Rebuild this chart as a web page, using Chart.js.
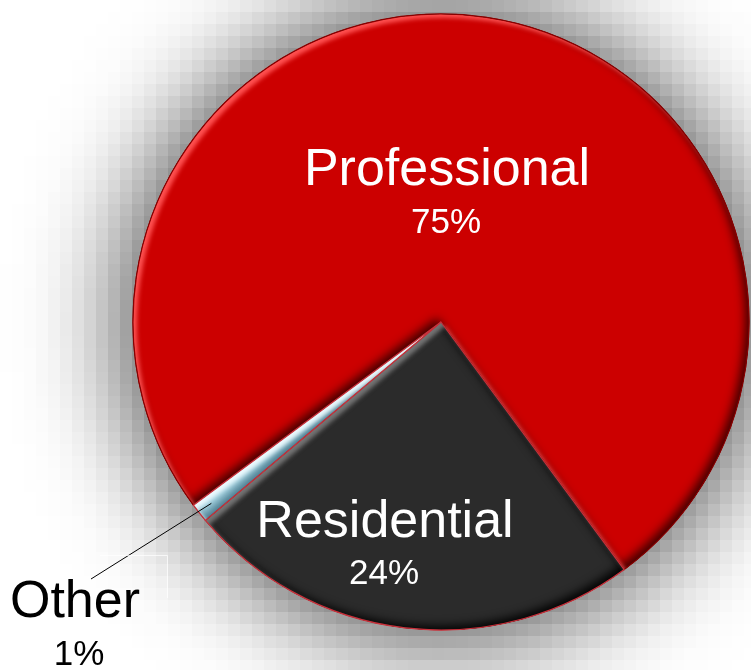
<!DOCTYPE html>
<html>
<head>
<meta charset="utf-8">
<script src="https://cdn.jsdelivr.net/npm/chart.js@4.4.1/dist/chart.umd.min.js"></script>
<style>
  html, body { margin: 0; padding: 0; background: #fff; }
  #pie { display: block; }
</style>
</head>
<body>
<canvas id="pie" width="751" height="670"></canvas>
<script>
// ===== data =====
const SEGMENTS = ["Professional", "Residential", "Other"];
const SHARES = [75, 24, 1];
const SHARE_TEXT = ["75%", "24%", "1%"];

// ===== look =====
const FILLS   = ["#cc0000", "#2b2b2b", "#a9d7e5"];
const BORDERS = ["#8a0000", "#c8313b", "#c8313b"];
const BEVEL = [
  { light: "rgba(255,80,80,1)",      dark: "rgba(60,0,0,0.95)" },
  { light: "rgba(120,120,120,0.95)", dark: "rgba(0,0,0,0.95)" },
  { light: "rgba(240,252,255,0.95)", dark: "rgba(60,110,130,0.9)" },
];
const FONT = "'Liberation Sans', Arial, sans-serif";
const NAME_SIZE = 52;
const PCT_SIZE = 35;

// label spots, relative to the pie centre
const LABEL_SPOTS = [
  { name: [6, -137],    pct: [5, -89],    color: "#fff" },
  { name: [-56, 215],   pct: [-57, 262],  color: "#fff" },
  { name: [-366, 295],  pct: [-362, 343], color: "#000" },
];
const LEADER_END = [-350, 257];

function arcPath(p) {
  const path = new Path2D();
  path.moveTo(p.x, p.y);
  path.arc(p.x, p.y, p.outerRadius, p.startAngle, p.endAngle);
  path.closePath();
  return path;
}

// soft blocky drop shadow under the whole pie
const dropShadow = {
  id: "dropShadow",
  beforeDatasetsDraw(chart) {
    const arc = chart.getDatasetMeta(0).data[0];
    if (!arc) return;
    const { x, y, outerRadius } = arc.getProps(["x", "y", "outerRadius"], true);
    const cell = 12;
    const off = document.createElement("canvas");
    off.width = Math.ceil(chart.width / cell);
    off.height = Math.ceil(chart.height / cell);
    const o = off.getContext("2d");
    o.shadowColor = "rgba(0,0,0,0.8)";
    o.shadowBlur = 100 / cell;
    o.shadowOffsetX = 1000;
    o.fillStyle = "#000";
    o.beginPath();
    o.arc(x / cell - 1000, y / cell, outerRadius / cell + 0.5, 0, Math.PI * 2);
    o.fill();
    const ctx = chart.ctx;
    ctx.save();
    ctx.imageSmoothingEnabled = false;
    ctx.drawImage(off, 0, 0, off.width * cell, off.height * cell);
    ctx.restore();
  }
};

// inner bevel: light on upper-left faces, dark on lower-right faces
const bevel = {
  id: "bevel",
  afterDatasetsDraw(chart) {
    const ctx = chart.ctx;
    chart.getDatasetMeta(0).data.forEach((arc, i) => {
      const p = arc.getProps(["x", "y", "startAngle", "endAngle", "outerRadius"], true);
      const path = arcPath(p);
      const frame = new Path2D();
      frame.rect(-3000, -3000, 7000, 7000);
      frame.addPath(path);
      const tone = BEVEL[i];
      ctx.save();
      ctx.clip(path);
      ctx.fillStyle = "#000";
      ctx.shadowColor = tone.dark;
      ctx.shadowBlur = 10;
      ctx.shadowOffsetX = -4;
      ctx.shadowOffsetY = -4;
      ctx.fill(frame, "evenodd");
      ctx.shadowColor = tone.light;
      ctx.shadowBlur = 4;
      ctx.shadowOffsetX = 4;
      ctx.shadowOffsetY = 4;
      ctx.fill(frame, "evenodd");
      ctx.restore();
      // thin rim line on top
      ctx.save();
      ctx.strokeStyle = BORDERS[i];
      ctx.lineWidth = 1.2;
      ctx.stroke(path);
      ctx.restore();
    });
  }
};

// category name + share, and the leader for the small slice
const sliceText = {
  id: "sliceText",
  afterDraw(chart) {
    const ctx = chart.ctx;
    const arcs = chart.getDatasetMeta(0).data;
    if (!arcs.length) return;
    const { x: cx, y: cy } = arcs[0].getProps(["x", "y"], true);

    // leader line from the "Other" slice
    const o = arcs[2].getProps(["startAngle", "endAngle", "outerRadius"], true);
    const mid = (o.startAngle + o.endAngle) / 2;
    const r = o.outerRadius * 0.95;
    ctx.save();
    ctx.strokeStyle = "#000";
    ctx.lineWidth = 1;
    ctx.beginPath();
    ctx.moveTo(cx + Math.cos(mid) * r, cy + Math.sin(mid) * r);
    ctx.lineTo(cx + LEADER_END[0], cy + LEADER_END[1]);
    ctx.stroke();
    // faint label box edge
    ctx.strokeStyle = "rgba(255,255,255,0.7)";
    ctx.beginPath();
    ctx.moveTo(100, 555.5);
    ctx.lineTo(167.5, 555.5);
    ctx.lineTo(167.5, 598);
    ctx.stroke();
    ctx.restore();

    ctx.save();
    ctx.textAlign = "center";
    ctx.textBaseline = "alphabetic";
    SEGMENTS.forEach((name, i) => {
      const spot = LABEL_SPOTS[i];
      ctx.fillStyle = spot.color;
      ctx.font = `${NAME_SIZE}px ${FONT}`;
      ctx.fillText(name, cx + spot.name[0], cy + spot.name[1]);
      ctx.font = `${PCT_SIZE}px ${FONT}`;
      ctx.fillText(SHARE_TEXT[i], cx + spot.pct[0], cy + spot.pct[1]);
    });
    ctx.restore();
  }
};

new Chart(document.getElementById("pie"), {
  type: "pie",
  data: {
    labels: SEGMENTS,
    datasets: [{
      data: SHARES,
      backgroundColor: FILLS,
      borderColor: BORDERS,
      borderWidth: 1,
      hoverOffset: 0,
      radius: 308,
    }]
  },
  options: {
    responsive: false,
    devicePixelRatio: 1,
    animation: false,
    events: [],
    rotation: 233.5,
    layout: { padding: { left: 133, right: 2, top: 14, bottom: 40 } },
    plugins: {
      legend: { display: false },
      tooltip: { enabled: false },
    }
  },
  plugins: [dropShadow, bevel, sliceText]
});
</script>
</body>
</html>
